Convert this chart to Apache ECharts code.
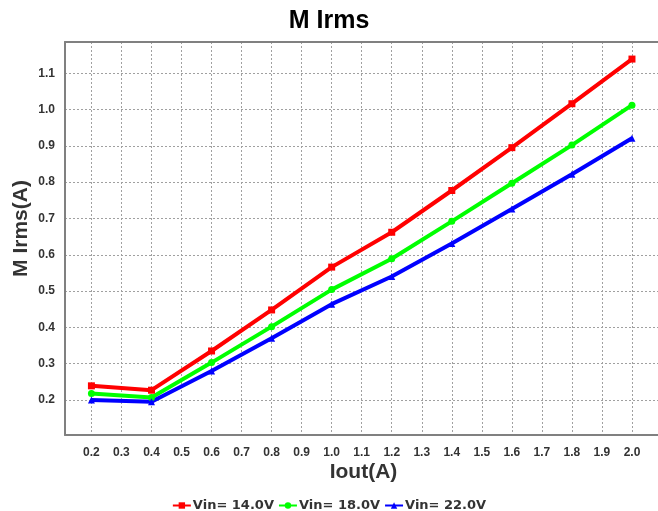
<!DOCTYPE html>
<html>
<head>
<meta charset="utf-8">
<script src="https://cdn.jsdelivr.net/npm/echarts@6/dist/echarts.min.js"></script>
<style>html,body{margin:0;padding:0;background:#fff;overflow:hidden}#c{width:658px;height:511px}</style>
</head>
<body>
<div id="c"></div>
<script>
var iout = [0.2, 0.4, 0.6, 0.8, 1.0, 1.2, 1.4, 1.6, 1.8, 2.0];
var vin14 = [0.239, 0.227, 0.335, 0.448, 0.566, 0.662, 0.777, 0.895, 1.016, 1.139];
var vin18 = [0.218, 0.207, 0.303, 0.402, 0.504, 0.589, 0.692, 0.797, 0.902, 1.012];
var vin22 = [0.200, 0.195, 0.280, 0.370, 0.464, 0.540, 0.631, 0.726, 0.822, 0.921];
var seriesNames = ['Vin= 14.0V', 'Vin= 18.0V', 'Vin= 22.0V'];
var seriesColors = ['#ff0000', '#00ff00', '#0000ff'];
var seriesSymbols = ['rect', 'circle', 'triangle'];
var seriesValues = [vin14, vin18, vin22];

function pairs(vals) { return iout.map(function (x, i) { return [x, vals[i]]; }); }

var font = 'Liberation Sans, Arial, sans-serif';
var xMin = 0.112, xMax = 2.1;
var chart = echarts.init(document.getElementById('c'));
chart.setOption({
  animation: false,
  title: {
    text: 'M Irms', left: 'center', top: 4,
    textStyle: { fontFamily: font, fontSize: 25, fontWeight: 'bold', color: '#000' }
  },
  legend: {
    top: 494, left: 'center', itemGap: 4, itemWidth: 18, itemHeight: 8,
    textStyle: { fontFamily: 'DejaVu Sans, sans-serif', fontSize: 13, fontWeight: 'bold', color: '#333', padding: [0, 0, 0, -3] },
    data: seriesNames
  },
  grid: {
    left: 65, top: 42, width: 597, height: 393, outerBoundsMode: 'none', containLabel: false,
    show: false
  },
  xAxis: [{
    type: 'value', min: xMin, max: xMax, splitNumber: 20,
    name: 'Iout(A)', nameLocation: 'middle', nameGap: 27, nameMoveOverlap: false,
    nameTextStyle: { fontFamily: font, fontSize: 21, fontWeight: 'bold', color: '#333' },
    axisLine: { show: true, lineStyle: { color: '#808080', width: 2 } },
    axisTick: { show: false },
    axisLabel: {
      showMinLabel: false, showMaxLabel: false, margin: 12,
      fontFamily: font, fontSize: 12, fontWeight: 'bold', color: '#333',
      formatter: function (v) { return v.toFixed(1); }
    },
    splitLine: { show: true, lineStyle: { color: '#a0a0a0', type: [2, 2], width: 1 } }
  }, {
    type: 'value', position: 'top', min: xMin, max: xMax, splitNumber: 20,
    axisLine: { show: true, lineStyle: { color: '#808080', width: 2 } },
    axisTick: { show: false }, axisLabel: { show: false }, splitLine: { show: false }
  }],
  yAxis: {
    type: 'value', min: 0.1036, max: 1.186, splitNumber: 11,
    name: 'M Irms(A)', nameLocation: 'middle', nameGap: 33, nameMoveOverlap: false,
    nameTextStyle: { fontFamily: font, fontSize: 21, fontWeight: 'bold', color: '#333', padding: [0, 0, 0, 20] },
    axisLine: { show: true, lineStyle: { color: '#808080', width: 2 } },
    axisTick: { show: false },
    axisLabel: {
      showMinLabel: false, showMaxLabel: false, margin: 10,
      fontFamily: font, fontSize: 12, fontWeight: 'bold', color: '#333',
      formatter: function (v) { return v.toFixed(1); }
    },
    splitLine: { show: true, lineStyle: { color: '#a0a0a0', type: [2, 2], width: 1 } }
  },
  series: seriesNames.map(function (n, i) {
    return {
      name: n, type: 'line', xAxisIndex: 0, data: pairs(seriesValues[i]),
      symbol: seriesSymbols[i], symbolSize: 7, showAllSymbol: true,
      itemStyle: { color: seriesColors[i] },
      lineStyle: { color: seriesColors[i], width: 4 }
    };
  })
});
</script>
</body>
</html>
